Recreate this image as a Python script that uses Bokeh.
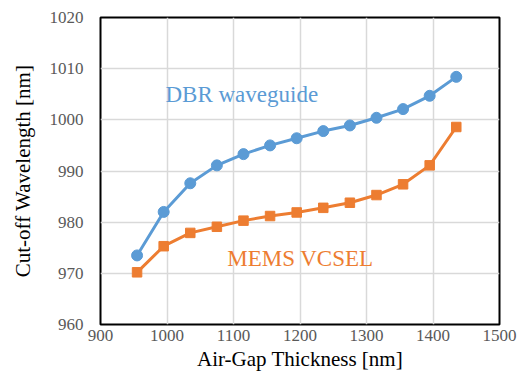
from bokeh.plotting import figure
from bokeh.models import ColumnDataSource, FixedTicker, Range1d
from bokeh.core.properties import value
from bokeh.embed import file_html
from bokeh.resources import INLINE

# Data
air_gap = [955, 995, 1035, 1075, 1115, 1155, 1195, 1235, 1275, 1315, 1355, 1395, 1435]
dbr_waveguide = [973.5, 982.0, 987.6, 991.1, 993.3, 995.0, 996.4, 997.8, 998.9, 1000.4, 1002.1, 1004.7, 1008.4]
mems_vcsel = [970.2, 975.3, 977.9, 979.1, 980.3, 981.2, 981.9, 982.8, 983.8, 985.3, 987.4, 991.1, 998.6]
x_ticks = [900, 1000, 1100, 1200, 1300, 1400, 1500]
y_ticks = [960, 970, 980, 990, 1000, 1010, 1020]
labels = ["DBR waveguide", "MEMS VCSEL"]
x_title = "Air-Gap Thickness [nm]"
y_title = "Cut-off Wavelength [nm]"

BLUE = "#5B9BD5"
ORANGE = "#ED7D31"
FONT = "Liberation Serif"

p = figure(width=522, height=374, output_backend="svg", toolbar_location=None,
           x_range=Range1d(900, 1500), y_range=Range1d(960, 1020),
           min_border_left=100, min_border_right=23, min_border_top=17, min_border_bottom=50)

p.outline_line_color = "black"
p.outline_line_width = 2
p.background_fill_color = "white"

for ax in (p.xaxis, p.yaxis):
    ax.axis_line_color = None
    ax.major_tick_line_color = None
    ax.minor_tick_line_color = None
    ax.major_tick_out = 0
    ax.major_tick_in = 0
    ax.minor_tick_out = 0
    ax.minor_tick_in = 0
    ax.major_label_text_font = FONT
    ax.major_label_text_font_size = "17px"
    ax.major_label_text_color = "#595959"
    ax.axis_label_text_font = FONT
    ax.axis_label_text_font_size = "21px"
    ax.axis_label_text_font_style = "normal"
    ax.axis_label_text_color = "black"

p.xaxis.ticker = FixedTicker(ticks=x_ticks)
p.yaxis.ticker = FixedTicker(ticks=y_ticks)
p.xaxis.axis_label = x_title
p.yaxis.axis_label = y_title
p.xaxis.major_label_standoff = 5
p.yaxis.major_label_standoff = 17
p.xaxis.axis_label_standoff = 3
p.yaxis.axis_label_standoff = 12

p.xgrid.grid_line_color = "#D9D9D9"
p.ygrid.grid_line_color = "#D9D9D9"
p.xgrid.grid_line_width = 1.5
p.ygrid.grid_line_width = 1.5

src = ColumnDataSource(dict(x=air_gap, dbr=dbr_waveguide, mems=mems_vcsel))

p.line("x", "dbr", source=src, line_color=BLUE, line_width=3)
p.scatter("x", "dbr", source=src, marker="circle", size=11, fill_color=BLUE, line_color=BLUE)
p.line("x", "mems", source=src, line_color=ORANGE, line_width=3)
p.scatter("x", "mems", source=src, marker="square", size=9.5, fill_color=ORANGE, line_color=ORANGE)

p.text(x=[997.7], y=[1004.95], text=[labels[0]], text_font=value(FONT), text_font_size="23px",
       text_color=BLUE, text_baseline="alphabetic", text_align="left")
p.text(x=[1090.5], y=[972.9], text=[labels[1]], text_font=value(FONT), text_font_size="23px",
       text_color=ORANGE, text_baseline="alphabetic", text_align="left")

open("out.html", "w").write(file_html(p, INLINE))
